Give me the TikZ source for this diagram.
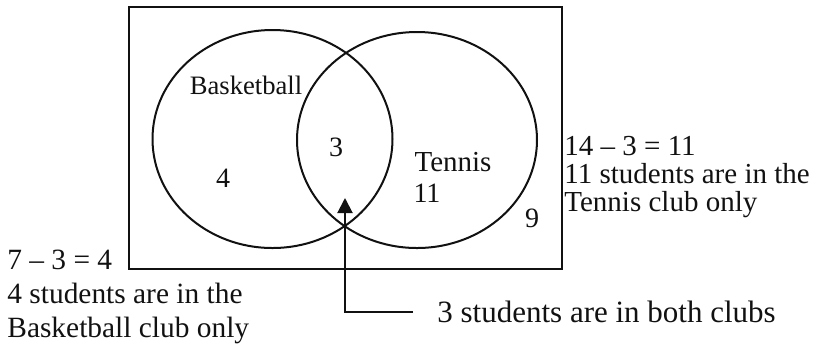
\documentclass[tikz,border=0pt]{standalone}
\usepackage{fontspec}
\setmainfont{Liberation Serif}
\usepackage{tikz}
\usetikzlibrary{arrows.meta,positioning,shapes.geometric}
\definecolor{VennInk}{HTML}{111111}

\begin{document}
\begin{tikzpicture}[x=0.5pt, y=-0.5pt,
  club/.style={ellipse, draw=VennInk, line width=1pt, minimum width=120pt,
               minimum height=109pt, inner sep=0pt},
  frame/.style={draw=VennInk, line width=1pt},
  region/.style={inner sep=0pt, text=VennInk, font=\fontsize{14}{16}\selectfont},
  note/.style={inner sep=0pt, align=left, text=VennInk},
  pointer/.style={-{Triangle[length=7.5pt, width=7.5pt]}, line width=1pt, draw=VennInk}
]
\useasboundingbox (0,0) rectangle (825,345);
\draw[frame] (129,7) rectangle (562,269);
\node[club] (bball) at (272.5,139) {};
\node[club, minimum height=108pt] (tennis) at (417,140) {};
\node[region, font=\fontsize{13.3}{16}\selectfont] (bname) at (246,85) {Basketball};
\node[region] (both) at (336,147) {3};
\node[region] (bonly) at (223,178) {4};
\node[region, font=\fontsize{14.5}{16}\selectfont] (tname) at (453,162) {Tennis};
\node[region] (tonly) at (427,193) {11};
\node[region] (none) at (532,218) {9};
\node[note, anchor=north west, font=\fontsize{14.7}{17}\selectfont] (bcalc) at (7,250)
  {7 -- 3 = 4\\4 students are in the\\Basketball club only};
\node[note, anchor=north west, font=\fontsize{14.5}{14}\selectfont] (tcalc) at (564,136)
  {14 -- 3 = 11\\11 students are in the\\Tennis club only};
\node[note, anchor=west, inner xsep=12pt, font=\fontsize{15.5}{17}\selectfont] (bothnote)
  at (413,312) {3 students are in both clubs};
\coordinate (tip) at (345,198);
\draw[pointer] (bothnote.west) -| (tip);
\end{tikzpicture}
\end{document}
